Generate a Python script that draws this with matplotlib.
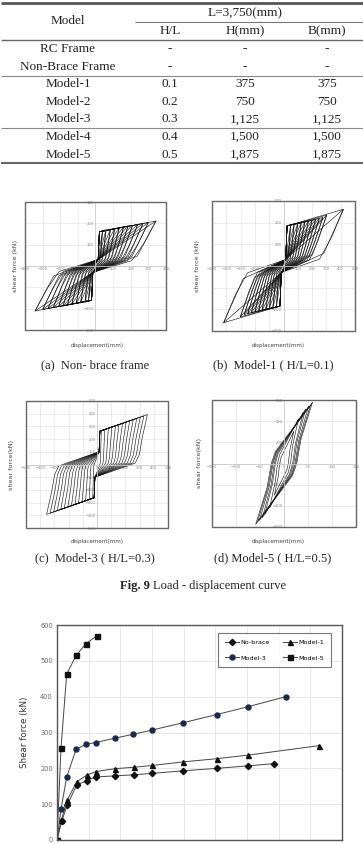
import numpy as np
import matplotlib.pyplot as plt

W, H = 363, 844

# ---- table data ----
tbl_models = ["RC Frame", "Non-Brace Frame", "Model-1", "Model-2", "Model-3", "Model-4", "Model-5"]
tbl_hl = ["-", "-", "0.1", "0.2", "0.3", "0.4", "0.5"]
tbl_h = ["-", "-", "375", "750", "1,125", "1,500", "1,875"]
tbl_b = ["-", "-", "375", "750", "1,125", "1,500", "1,875"]

# ---- hysteresis cycle peaks (displacement mm, shear force kN) ----
a_peak_d = [40, 60, 85, 110, 135, 160, 185, 210, 240, 270, 300, 343]
a_peak_f = [167, 170, 173, 177, 180, 184, 188, 191, 195, 200, 204, 211]
b_peak_d = [50, 75, 100, 125, 150, 175, 200, 225, 250, 275, 302, 419]
b_peak_f = [192, 195, 198, 201, 204, 208, 211, 215, 219, 224, 235, 262]
c_peak_d = [30, 55, 80, 105, 130, 155, 180, 205, 230, 255, 280, 305, 330, 355]
c_peak_f = [266, 276, 285, 295, 305, 315, 325, 334, 344, 354, 363, 373, 383, 393]
d_peak_d = [20, 30, 40, 45, 51, 55, 59]
d_peak_f = [300, 420, 480, 512, 537, 548, 575]

# ---- envelope curves (bottom chart) ----
nb_x = [0, 1.47, 3.26, 6.2, 9.4, 12.3, 18.3, 24.3, 30.1, 39.8, 50.6, 60.4, 68.4]
nb_y = [0, 52, 98, 153, 166, 176, 179, 182, 186, 193, 200, 207, 213]
m1_x = [0, 1.37, 3.26, 6.2, 9.4, 12.3, 18.3, 24.3, 30.1, 39.8, 50.6, 60.4, 82.6]
m1_y = [0, 56, 112, 162, 181, 191, 199, 203, 208, 218, 227, 237, 263]
m3_x = [0, 1.26, 3.05, 6.0, 9.16, 12.2, 18.2, 24.1, 30.1, 39.7, 50.4, 60.3, 72.3]
m3_y = [0, 86, 175, 253, 267, 272, 284, 295, 307, 327, 350, 372, 400]
m5_x = [0, 1.26, 3.05, 6.0, 9.16, 12.5]
m5_y = [0, 256, 462, 515, 548, 569]

serif = "Liberation Serif"
sans = "DejaVu Sans"

fig = plt.figure(figsize=(W / 100, H / 100), dpi=100)


def px_axes(x0, y0, x1, y1):
    return fig.add_axes([x0 / W, 1 - y1 / H, (x1 - x0) / W, (y1 - y0) / H])


bg = fig.add_axes([0, 0, 1, 1])
bg.set_xlim(0, W)
bg.set_ylim(H, 0)
bg.axis("off")

# table
tc = "#222222"
col_x = [68, 170, 245, 327]
bg.text(col_x[0], 21, "Model", ha="center", va="center", family=serif, size=9.5, color=tc)
bg.text(245, 13, "L=3,750(mm)", ha="center", va="center", family=serif, size=9.5, color=tc)
for x, s in zip(col_x[1:], ["H/L", "H(mm)", "B(mm)"]):
    bg.text(x, 31, s, ha="center", va="center", family=serif, size=9.5, color=tc)
for i in range(len(tbl_models)):
    y = 49 + 17.6 * i
    for x, s in zip(col_x, [tbl_models[i], tbl_hl[i], tbl_h[i], tbl_b[i]]):
        bg.text(x, y, s, ha="center", va="center", family=serif, size=9.5, color=tc)
bg.hlines(3, 1, W, lw=2.0, color="#555555")
bg.hlines(22, 135, W, lw=0.8, color="#777777")
bg.hlines(40, 1, W, lw=1.0, color="#666666")
bg.hlines(76, 1, W, lw=0.8, color="#888888")
bg.hlines(128, 1, W, lw=0.8, color="#888888")
bg.hlines(163, 1, W, lw=1.5, color="#666666")

# loop templates: (x = a*d + b, y = c*F + e) for positive half, mirrored for negative
tmpl_a = [[(0, 15, 0, 30), (0, 22, 0, 160), (1, 0, 1, 0), (0.69, 0, 0.22, 0)],
          [(0, 15, 0, 30), (1, 0, 1, 0), (0.8, 0, 0.5, 0), (0.6, 0, 0.12, 0)]]
tmpl_b = [[(0, 15, 0, 30), (0, 25, 0, 185), (1, 0, 1, 0), (0.67, 0, 0.22, 0)],
          [(0, 15, 0, 30), (1, 0, 1, 0), (0.8, 0, 0.5, 0), (0.6, 0, 0.12, 0)]]
tmpl_c = [[(0, 15, 0, 100), (0, 20, 0, 262), (1, 0, 1, 0), (0.9, 0, 0.55, 0),
           (0.84, 0, 0.2, 0), (0.76, 0, 0.03, 0), (0.6, 0, -0.03, 0)]]
tmpl_d = [[(1, 0, 1, 0), (0.6, 0, 0.4, 0), (0.45, 0, 0, 0), (0.3, 0, -0.2, 0)]]


def draw_hyst(ax, peaks_d, peaks_f, tmpls, xlim, ylim, xstep, ystep, ylab, ylab_x):
    ax.set_xlim(*xlim)
    ax.set_ylim(*ylim)
    ax.set_xticks(np.arange(xlim[0], xlim[1] + 1, xstep))
    ax.set_yticks(np.arange(ylim[0], ylim[1] + 1, ystep))
    ax.grid(color="#e4e4e4", lw=0.5)
    ax.set_axisbelow(True)
    for s in ["top", "right"]:
        ax.spines[s].set_visible(False)
    ax.spines["left"].set_position(("data", 0))
    ax.spines["bottom"].set_position(("data", 0))
    ax.spines["left"].set_color("#cccccc")
    ax.spines["bottom"].set_color("#cccccc")
    ax.spines["left"].set_linewidth(0.6)
    ax.spines["bottom"].set_linewidth(0.6)
    ax.tick_params(length=0, labelsize=2.6, labelcolor="#888888", pad=1)
    ax.add_patch(plt.Rectangle((0, 0), 1, 1, transform=ax.transAxes, fill=False,
                               ec="#666666", lw=1.0, clip_on=False, zorder=5))
    for tmpl in tmpls:
        for d, f in zip(peaks_d, peaks_f):
            pos = [(a * d + b, c * f + e) for a, b, c, e in tmpl]
            pts = pos + [(-x, -y) for x, y in pos] + [pos[0]]
            xs, ys = zip(*pts)
            ax.plot(xs, ys, color="#111111", lw=0.42)
    ax.text(ylab_x, 0.5, ylab, transform=ax.transAxes, rotation=90, ha="center",
            va="center", family=sans, size=4.6, color="#444444")


axa = px_axes(25, 202, 166, 330)
draw_hyst(axa, a_peak_d, a_peak_f, tmpl_a, (-400, 400), (-300, 300), 100, 100, "shear force (kN)", -0.07)
axb = px_axes(212, 201, 355, 331)
draw_hyst(axb, b_peak_d, b_peak_f, tmpl_b, (-500, 500), (-300, 300), 100, 100, "shear force (kN)", -0.1)
axc = px_axes(26, 401, 168, 528)
draw_hyst(axc, c_peak_d, c_peak_f, tmpl_c, (-500, 500), (-500, 500), 100, 100, "shear force(kN)", -0.1)
axd = px_axes(212, 400, 356, 527)
draw_hyst(axd, d_peak_d, d_peak_f, tmpl_d, (-150, 150), (-600, 600), 50, 200, "shear force(kN)", -0.09)

for x, y in [(97, 345), (278, 346), (97, 541), (278, 541)]:
    bg.text(x, y, "displacement(mm)", ha="center", va="center", family=sans, size=4.1, color="#444444")

cap_kw = dict(ha="center", va="center", family=serif, size=9, color=tc)
bg.text(95, 365, "(a)  Non- brace frame", **cap_kw)
bg.text(273, 365, "(b)  Model-1 ( H/L=0.1)", **cap_kw)
bg.text(95, 558, "(c)  Model-3 ( H/L=0.3)", **cap_kw)
bg.text(273, 558, "(d) Model-5 ( H/L=0.5)", **cap_kw)
bg.text(150, 586, "Fig. 9", ha="right", va="center", family=serif, size=9, weight="bold", color=tc)
bg.text(153, 586, "Load - displacement curve", ha="left", va="center", family=serif, size=9, color=tc)

# bottom chart
ax = px_axes(57, 625, 342, 840)
ax.set_xlim(0, 90)
ax.set_ylim(0, 600)
ax.set_xticks(np.arange(0, 91, 10))
ax.set_yticks(np.arange(0, 601, 100))
ax.set_xticklabels([])
ax.grid(color="#e4e4e4", lw=0.6)
ax.set_axisbelow(True)
ax.tick_params(length=0, labelsize=4.8, labelcolor="#666666", pad=3)
for s in ax.spines.values():
    s.set_color("#555555")
    s.set_linewidth(1.0)
lk = dict(color="#444444", lw=0.7, markersize=3.6)
l1, = ax.plot(nb_x, nb_y, marker="D", mfc="#111111", mec="#111111", label="No-brace", **dict(lk, markersize=3.2))
l2, = ax.plot(m1_x, m1_y, marker="^", mfc="#111111", mec="#111111", label="Model-1", **lk)
l3, = ax.plot(m3_x, m3_y, marker="o", mfc="#1c2a4a", mec="#1c2a4a", label="Model-3", **lk)
l4, = ax.plot(m5_x, m5_y, marker="s", mfc="#111111", mec="#111111", label="Model-5", **lk)
ax.set_ylabel("Shear force (kN)", family=sans, size=6.3, color="#333333", labelpad=8)
leg = ax.legend([l1, l3, l2, l4], ["No-brace", "Model-3", "Model-1", "Model-5"], ncol=2,
                loc="upper right", bbox_to_anchor=(0.961, 0.963), borderaxespad=0,
                fancybox=False, edgecolor="#555555", prop={"family": sans, "size": 4.6},
                labelspacing=1.6, borderpad=1.0, columnspacing=2.0, handlelength=2.2,
                handletextpad=0.3, numpoints=1)
leg.get_frame().set_linewidth(0.8)

fig.savefig("out.png", dpi=100)
